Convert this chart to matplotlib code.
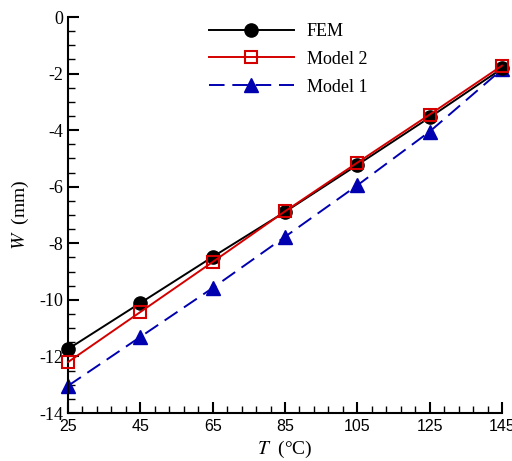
import numpy as np
import matplotlib
matplotlib.use("Agg")
import matplotlib.pyplot as plt
from matplotlib.ticker import MultipleLocator, FixedLocator

# temperatures and deflections
temps = [25, 45, 65, 85, 105, 125, 145]
w_fem = [-11.74, -10.11, -8.48, -6.89, -5.23, -3.55, -1.82]
w_model2 = [-12.2, -10.43, -8.66, -6.87, -5.15, -3.45, -1.72]
w_model1 = [-13.04, -11.31, -9.58, -7.77, -5.95, -4.05, -1.85]

plt.rcParams["mathtext.fontset"] = "stix"
plt.rcParams["axes.unicode_minus"] = False

serif = ["Liberation Serif", "DejaVu Serif"]
sans = ["Liberation Sans", "DejaVu Sans"]

fig = plt.figure(figsize=(5.12, 4.61), dpi=100)
ax = fig.add_axes([0.1328, 0.1041, 0.8477, 0.859])

ax.plot(temps, w_fem, color="black", lw=1.4, marker="o", ms=9.5,
        label="FEM", zorder=3, clip_on=False)
ax.plot(temps, w_model2, color="#d40000", lw=1.4, marker="s", ms=9,
        mfc="none", mew=1.5, label="Model 2", zorder=4, clip_on=False)
ax.plot(temps, w_model1, color="#0000b0", lw=1.4, marker="^", ms=9.5,
        dashes=(8, 4), label="Model 1", zorder=2, clip_on=False)

ax.set_xlim(25, 145)
ax.set_ylim(-14, 0)
ax.xaxis.set_major_locator(FixedLocator(temps))
ax.xaxis.set_minor_locator(FixedLocator(np.arange(25, 146, 4)))
ax.yaxis.set_major_locator(MultipleLocator(2))
ax.yaxis.set_minor_locator(MultipleLocator(0.5))

for s in ["top", "right"]:
    ax.spines[s].set_visible(False)
for s in ["left", "bottom"]:
    ax.spines[s].set_linewidth(1.5)

ax.tick_params(which="major", direction="in", length=8, width=1.5)
ax.tick_params(which="minor", direction="in", length=5, width=1)
ax.tick_params(axis="x", pad=4)

for lab in ax.get_xticklabels():
    lab.set_family(sans)
    lab.set_fontsize(11.5)
for lab in ax.get_yticklabels():
    lab.set_family(serif)
    lab.set_fontsize(13)

ax.set_xlabel(r"$T$  (°C)", family=serif, fontsize=14, labelpad=4)
ax.set_ylabel(r"$W$  (mm)", family=serif, fontsize=14, labelpad=6)

leg = ax.legend(loc="upper left", bbox_to_anchor=(0.325, 0.985), frameon=False,
                prop={"family": serif, "size": 13}, handlelength=4.7,
                labelspacing=0.6, handletextpad=0.7, borderpad=0,
                borderaxespad=0)

fig.savefig("out.png", dpi=100)
